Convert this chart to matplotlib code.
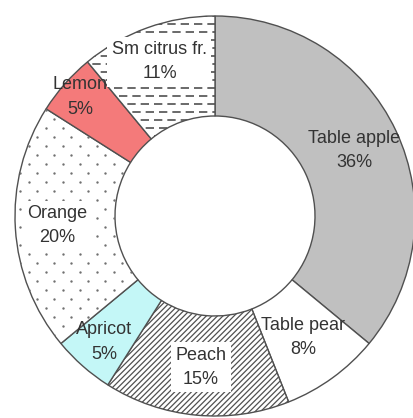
import matplotlib
matplotlib.use("Agg")
import matplotlib.pyplot as plt
import numpy as np

# fruit shares, clockwise from 12 o'clock
labels = ["Table apple", "Table pear", "Peach", "Apricot", "Orange", "Lemon", "Sm citrus fr."]
shares = [36, 8, 15, 5, 20, 5, 11]
colors = ["#c0c0c0", "#ffffff", "#ffffff", "#c4f7f7", "#ffffff", "#f47a7a", "#ffffff"]
# texture per slice: None, "hatch", "dots", "dashes"
textures = [None, None, "hatch", None, "dots", None, "dashes"]
label_r = [0.77, 0.75, 0.76, 0.84, 0.79, 0.9, 0.82]
white_box = [False, False, True, False, True, False, True]

plt.rcParams["font.family"] = ["Liberation Sans", "DejaVu Sans"]
plt.rcParams["hatch.linewidth"] = 0.9

fig = plt.figure(figsize=(4.13, 4.18), dpi=100)
ax = fig.add_axes([0, 0, 1, 1])

wedges, _ = ax.pie(shares, colors=colors, startangle=90, counterclock=False,
                   radius=1.0, wedgeprops=dict(width=0.5, edgecolor="#505050", linewidth=1.0))

for w, tex in zip(wedges, textures):
    if tex == "hatch":
        w.set_hatch("//////")
    elif tex == "dots":
        # staggered grid of small grey dots
        xs, ys = [], []
        for i, yy in enumerate(np.arange(-1.0, 1.0, 0.045)):
            off = 0.0425 if i % 2 else 0.0
            for xx in np.arange(-1.1 + off, 1.0, 0.085):
                xs.append(xx)
                ys.append(yy)
        sc = ax.scatter(xs, ys, s=3.0, color="#707070", linewidths=0, zorder=2)
        sc.set_clip_path(w)
    elif tex == "dashes":
        for i, yy in enumerate(np.arange(-1.0, 1.1, 0.04)):
            ln, = ax.plot([-1.1, 1.0], [yy, yy], color="#505050", lw=1.2, zorder=2,
                          linestyle=(3.0 if i % 2 else 0.0, (5, 3)))
            ln.set_clip_path(w)

angle = 90.0
for lab, s, r, box in zip(labels, shares, label_r, white_box):
    mid = np.deg2rad(angle - s * 3.6 / 2)
    angle -= s * 3.6
    x, y = r * np.cos(mid), r * np.sin(mid)
    kw = {}
    if box:
        kw["bbox"] = dict(boxstyle="square,pad=0.25", fc="white", ec="none")
    ax.text(x, y, f"{lab}\n{s}%", ha="center", va="center", fontsize=13,
            color="#333333", linespacing=1.55, zorder=5, **kw)

ax.set_xlim(-1.075, 0.99)
ax.set_ylim(-1.01, 1.08)
ax.set_aspect("auto")
ax.axis("off")

fig.savefig("out.png", dpi=100)
